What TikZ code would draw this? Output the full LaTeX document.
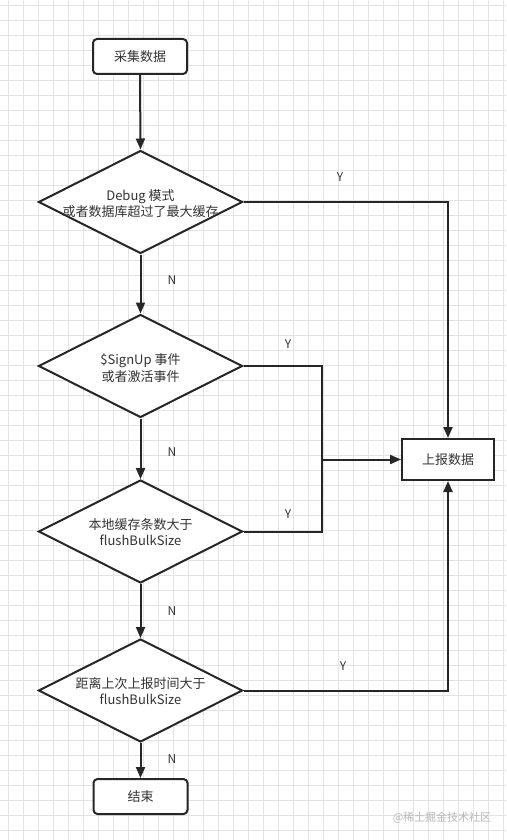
\documentclass[tikz,border=0pt]{standalone}
\usepackage{fontspec}
\setmainfont{Noto Sans CJK SC}
\usetikzlibrary{shapes.geometric,arrows.meta}
\definecolor{ink}{HTML}{262626}
\definecolor{txt}{HTML}{333333}
\definecolor{gridc}{HTML}{E3E3E3}
\definecolor{wm}{HTML}{B8B8B8}
\tikzset{
  flowbox/.style={draw=ink, line width=2pt, rounded corners=4pt, fill=white, minimum width=94pt, minimum height=35pt, inner sep=0pt},
  repbox/.style={draw=ink, line width=2pt, fill=white, minimum width=92pt, minimum height=41pt, inner sep=0pt},
  decision/.style={draw=ink, line width=2pt, diamond, fill=white, minimum width=204pt, minimum height=103pt, inner sep=0pt},
  lbl/.style={font=\fontsize{13pt}{16.5pt}\selectfont, text=txt, align=center, inner sep=0pt},
  yn/.style={font=\fontsize{12pt}{14pt}\selectfont, text=txt, inner sep=0pt},
  conn/.style={draw=ink, line width=2pt},
  arr/.style={conn, -{Triangle[length=11pt,width=9pt]}},
}
\begin{document}
\begin{tikzpicture}[x=1pt,y=-1pt]
\useasboundingbox (0,0) rectangle (506,840);
\fill[white] (0,0) rectangle (506,840);
% grid
\foreach \gx in {8,23,...,506} \draw[gridc, line width=0.7pt] (\gx,0) -- (\gx,840);
\foreach \gy in {5,20,...,840} \draw[gridc, line width=0.7pt] (0,\gy) -- (506,\gy);

% nodes
\node[flowbox] (start) at (140,56.5) {};
\node[lbl] (startt) at (start) {采集数据};
\node[decision] (d1) at (140.5,202) {};
\node[lbl] (d1t) at (140.5,203.5) {Debug 模式\\或者数据库超过了最大缓存};
\node[decision] (d2) at (140.5,366) {};
\node[lbl] (d2t) at (140.5,368) {\$SignUp 事件\\或者激活事件};
\node[decision] (d3) at (140.5,531.5) {};
\node[lbl] (d3t) at (140.5,532) {本地缓存条数大于\\flushBulkSize};
\node[decision] (d4) at (140.5,690.5) {};
\node[lbl] (d4t) at (140.5,691) {距离上次上报时间大于\\flushBulkSize};
\node[flowbox] (end) at (140.5,796.5) {};
\node[lbl] (endt) at (end) {结束};
\node[repbox] (rep) at (448,459.5) {};
\node[lbl] (rept) at (rep) {上报数据};

% coordinates for the junction
\coordinate (jt) at (322,366);
\coordinate (jb) at (322,531.5);
\coordinate (jm) at (jt |- rep.west);

% connectors
\draw[arr] (start.south) -- (d1.north);
\draw[arr] (d1.south) -- (d2.north);
\draw[arr] (d2.south) -- (d3.north);
\draw[arr] (d3.south) -- (d4.north);
\draw[arr] (d4.south) -- (end.north);
\draw[arr] (d1.east) -| (rep.north);
\draw[arr] (d4.east) -| (rep.south);
\draw[conn] (d2.east) -- (jt) -- (jb) -- (d3.east);
\draw[arr] (jm) -- (rep.west);

% labels
\node[yn] (y1) at (340,177) {Y};
\node[yn] (y2) at (288,344) {Y};
\node[yn] (y3) at (288,514) {Y};
\node[yn] (y4) at (343,666) {Y};
\node[yn] (n1) at (172,280) {N};
\node[yn] (n2) at (172,452) {N};
\node[yn] (n3) at (172,611) {N};
\node[yn] (n4) at (172,759) {N};

\node[font=\fontsize{11pt}{13pt}\selectfont, text=wm, inner sep=0pt] (wmk) at (442,818) {@稀土掘金技术社区};
\end{tikzpicture}
\end{document}
